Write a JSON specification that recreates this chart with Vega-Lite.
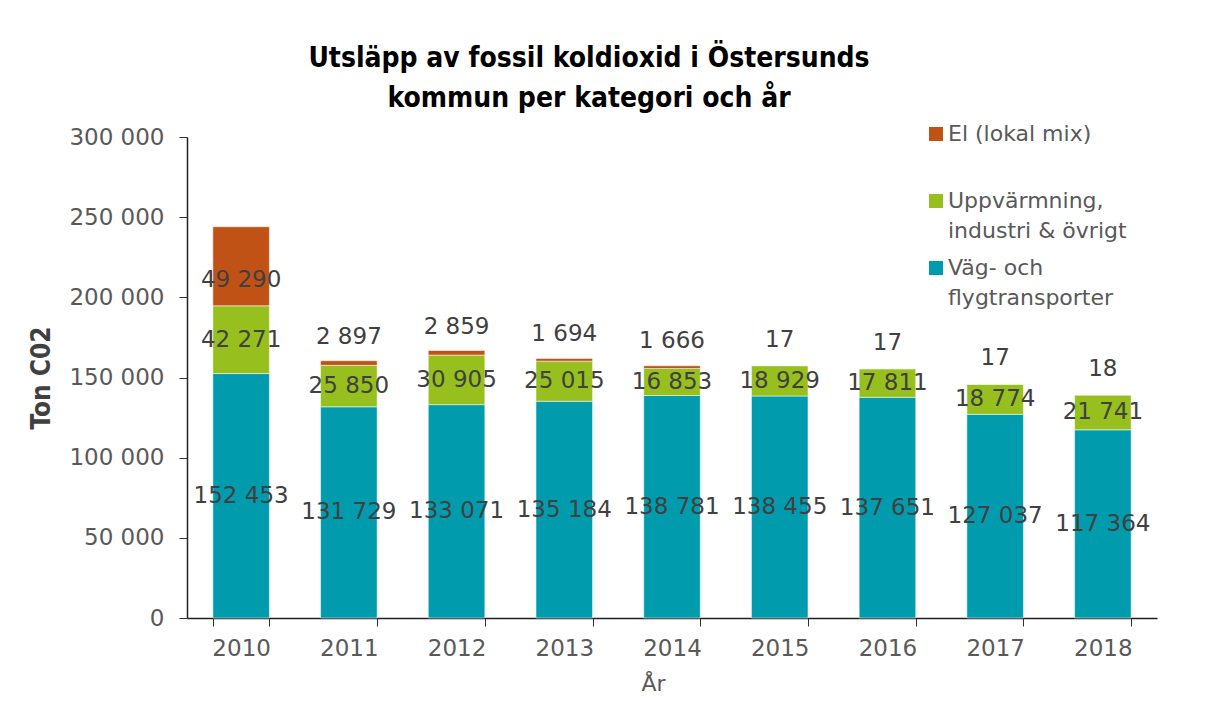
{
  "$schema": "https://vega.github.io/schema/vega-lite/v6.json",
  "width": 970,
  "height": 481,
  "padding": {"left": 28, "top": 45, "right": 5, "bottom": 5},
  "background": "white",
  "config": {
    "locale": {"number": {"decimal": ",", "thousands": " ", "grouping": [3], "currency": ["", " kr"]}},
    "view": {"stroke": null},
    "font": "DejaVu Sans",
    "style": {"guide-label": {"lineHeight": 30}}
  },
  "title": {
    "text": ["Utsläpp av fossil koldioxid i Östersunds", "kommun per kategori och år"],
    "font": "Liberation Sans Narrow, DejaVu Sans Condensed, sans-serif",
    "fontWeight": "bold",
    "fontSize": 28,
    "lineHeight": 40,
    "color": "#000000",
    "anchor": "middle",
    "frame": "group",
    "dx": -83,
    "offset": 10
  },
  "data": {
    "values": [
      {"year": "2010", "cat": "Väg- och flygtransporter", "value": 152453},
      {"year": "2010", "cat": "Uppvärmning, industri & övrigt", "value": 42271},
      {"year": "2010", "cat": "El (lokal mix)", "value": 49290},
      {"year": "2011", "cat": "Väg- och flygtransporter", "value": 131729},
      {"year": "2011", "cat": "Uppvärmning, industri & övrigt", "value": 25850},
      {"year": "2011", "cat": "El (lokal mix)", "value": 2897},
      {"year": "2012", "cat": "Väg- och flygtransporter", "value": 133071},
      {"year": "2012", "cat": "Uppvärmning, industri & övrigt", "value": 30905},
      {"year": "2012", "cat": "El (lokal mix)", "value": 2859},
      {"year": "2013", "cat": "Väg- och flygtransporter", "value": 135184},
      {"year": "2013", "cat": "Uppvärmning, industri & övrigt", "value": 25015},
      {"year": "2013", "cat": "El (lokal mix)", "value": 1694},
      {"year": "2014", "cat": "Väg- och flygtransporter", "value": 138781},
      {"year": "2014", "cat": "Uppvärmning, industri & övrigt", "value": 16853},
      {"year": "2014", "cat": "El (lokal mix)", "value": 1666},
      {"year": "2015", "cat": "Väg- och flygtransporter", "value": 138455},
      {"year": "2015", "cat": "Uppvärmning, industri & övrigt", "value": 18929},
      {"year": "2015", "cat": "El (lokal mix)", "value": 17},
      {"year": "2016", "cat": "Väg- och flygtransporter", "value": 137651},
      {"year": "2016", "cat": "Uppvärmning, industri & övrigt", "value": 17811},
      {"year": "2016", "cat": "El (lokal mix)", "value": 17},
      {"year": "2017", "cat": "Väg- och flygtransporter", "value": 127037},
      {"year": "2017", "cat": "Uppvärmning, industri & övrigt", "value": 18774},
      {"year": "2017", "cat": "El (lokal mix)", "value": 17},
      {"year": "2018", "cat": "Väg- och flygtransporter", "value": 117364},
      {"year": "2018", "cat": "Uppvärmning, industri & övrigt", "value": 21741},
      {"year": "2018", "cat": "El (lokal mix)", "value": 18}
    ]
  },
  "encoding": {
    "x": {
      "field": "year",
      "type": "nominal",
      "title": "År",
      "scale": {"paddingInner": 0.475, "paddingOuter": 0.24},
      "axis": {
        "tickBand": "extent",
        "labelAngle": 0,
        "labelFontSize": 23,
        "labelColor": "#595959",
        "labelPadding": 11,
        "tickSize": 8,
        "tickColor": "#303030",
        "domainColor": "#202020",
        "domainWidth": 1.5,
        "titleFontSize": 22,
        "titleColor": "#595959",
        "titleFontWeight": "normal",
        "titlePadding": 13,
        "titleX": 466,
        "grid": false
      }
    },
    "y": {
      "field": "value",
      "type": "quantitative",
      "stack": "zero",
      "title": "Ton C02",
      "scale": {"domain": [0, 300000]},
      "axis": {
        "values": [0, 50000, 100000, 150000, 200000, 250000, 300000],
        "format": ",d",
        "labelFontSize": 23,
        "labelColor": "#595959",
        "labelPadding": 15,
        "tickSize": 8,
        "tickColor": "#303030",
        "domainColor": "#202020",
        "domainWidth": 1.5,
        "titleFont": "Liberation Sans Narrow, DejaVu Sans Condensed, sans-serif",
        "titleFontSize": 26,
        "titleFontWeight": "bold",
        "titleColor": "#404040",
        "titlePadding": 14,
        "grid": false
      }
    },
    "order": {"field": "cat", "sort": "descending"}
  },
  "layer": [
    {
      "mark": {"type": "bar", "stroke": "white", "strokeWidth": 1, "strokeOpacity": 0.5},
      "encoding": {
        "color": {
          "field": "cat",
          "type": "nominal",
          "scale": {
            "domain": ["El (lokal mix)", "Uppvärmning, industri & övrigt", "Väg- och flygtransporter"],
            "range": ["#C15216", "#97C01E", "#009CAE"]
          },
          "legend": {
            "orient": "none",
            "legendX": 738,
            "legendY": -14,
            "title": null,
            "padding": 0,
            "symbolType": "square",
            "symbolSize": 196,
            "symbolStrokeWidth": 0,
            "labelFontSize": 22,
            "labelColor": "#595959",
            "labelLimit": 400,
            "labelOffset": 1,
            "rowPadding": 15,
            "labelExpr": "datum.label == 'El (lokal mix)' ? ['El (lokal mix)', ' '] : (datum.label == 'Väg- och flygtransporter' ? ['Väg- och', 'flygtransporter'] : ['Uppvärmning,', 'industri & övrigt'])",
            "encode": {"labels": {"update": {"lineHeight": {"value": 30}, "dy": {"value": 15}}}}
          }
        }
      }
    },
    {
      "mark": {"type": "text", "fontSize": 23, "color": "#404040"},
      "encoding": {
        "y": {"field": "value", "type": "quantitative", "stack": "zero", "bandPosition": 0.5},
        "detail": {"field": "cat"},
        "text": {"condition": {"test": "datum.cat != 'El (lokal mix)'", "field": "value", "type": "quantitative", "format": ",d"}, "value": ""}
      }
    },
    {
      "mark": {"type": "text", "fontSize": 23, "color": "#404040", "dy": -26},
      "encoding": {
        "y": {"field": "value", "type": "quantitative", "stack": "zero", "bandPosition": 0.5},
        "detail": {"field": "cat"},
        "text": {"condition": {"test": "datum.cat == 'El (lokal mix)' && datum.value < 10000", "field": "value", "type": "quantitative", "format": ",d"}, "value": ""}
      }
    },
    {
      "mark": {"type": "text", "fontSize": 23, "color": "#404040", "dy": 14},
      "encoding": {
        "y": {"field": "value", "type": "quantitative", "stack": "zero", "bandPosition": 0.5},
        "detail": {"field": "cat"},
        "text": {"condition": {"test": "datum.cat == 'El (lokal mix)' && datum.value >= 10000", "field": "value", "type": "quantitative", "format": ",d"}, "value": ""}
      }
    }
  ]
}
